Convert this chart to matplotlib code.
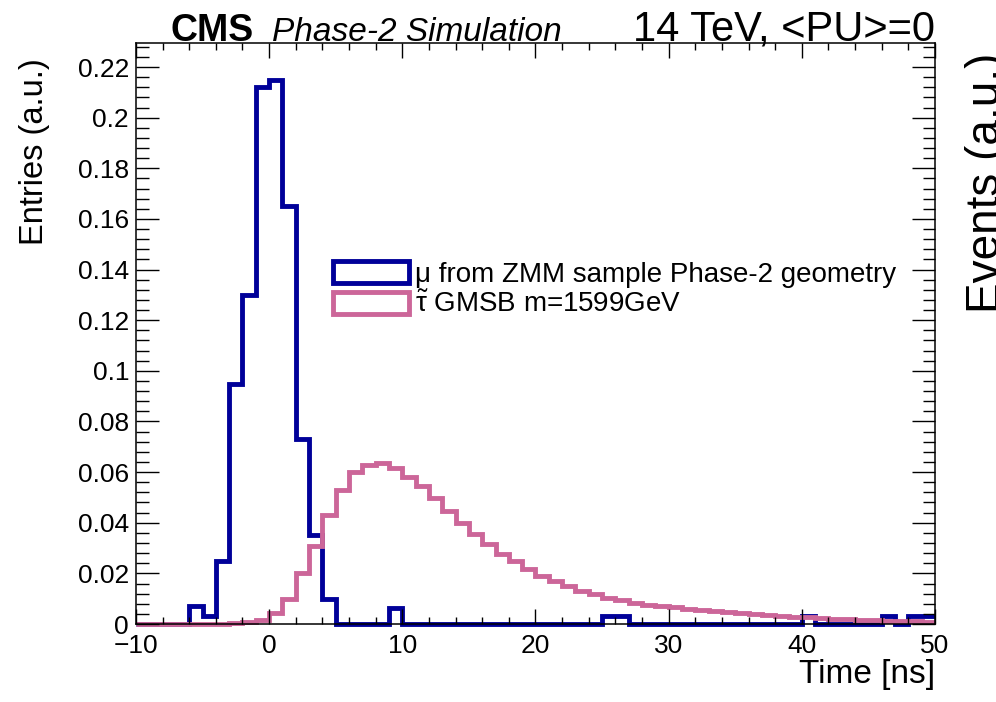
import numpy as np
import matplotlib
matplotlib.use("Agg")
import matplotlib.pyplot as plt
from matplotlib.patches import Patch
from matplotlib.ticker import MultipleLocator, FuncFormatter

plt.rcParams['font.family'] = ['Liberation Sans', 'DejaVu Sans']
plt.rcParams['mathtext.fontset'] = 'custom'
plt.rcParams['mathtext.rm'] = 'Liberation Sans'
plt.rcParams['mathtext.it'] = 'Liberation Sans:italic'

# 1 ns bins from -10 to 50
edges = np.arange(-10, 51, 1)

# muons from ZMM sample
mu_vals = [0, 0, 0, 0,
           0.007, 0.003, 0.025, 0.095, 0.130, 0.212, 0.215, 0.165, 0.073, 0.035, 0.010,
           0, 0, 0, 0,
           0.0065,
           0, 0, 0, 0, 0, 0, 0, 0, 0, 0, 0, 0, 0, 0, 0,
           0.003, 0.003,
           0, 0, 0, 0, 0, 0, 0, 0, 0, 0, 0, 0, 0,
           0.003,
           0, 0, 0, 0, 0,
           0.003,
           0,
           0.003, 0.003]

# stau GMSB m=1599 GeV
stau_vals = [0, 0, 0, 0, 0, 0,
             0.0002, 0.0004, 0.0008, 0.0015, 0.0045, 0.010, 0.020, 0.031, 0.043, 0.053,
             0.060, 0.063, 0.0635, 0.0615, 0.058, 0.0544, 0.0497, 0.0446, 0.040, 0.0355,
             0.0315, 0.0276, 0.0248, 0.0217, 0.019, 0.017, 0.015, 0.013, 0.0118, 0.0103,
             0.0095, 0.0083, 0.0077,
             0.0072, 0.0066, 0.0060, 0.0055, 0.0050, 0.0046, 0.0042, 0.0038, 0.0035, 0.0032,
             0.0029, 0.0026, 0.0023, 0.0021, 0.0019, 0.0017, 0.0015, 0.0013, 0.0012, 0.0010,
             0.0009]

blue = '#000099'
pink = '#cc6699'

fig = plt.figure(figsize=(9.96, 7.02), dpi=100)
ax = fig.add_axes([0.1365, 0.1111, 0.8023, 0.8276])

ax.stairs(mu_vals, edges, color=blue, lw=3.5, baseline=None, clip_on=False)
ax.stairs(stau_vals, edges, color=pink, lw=3.5, baseline=None, clip_on=False)

ax.set_xlim(-10, 50)
ax.set_ylim(0, 0.2295)

ax.xaxis.set_major_locator(MultipleLocator(10))
ax.xaxis.set_minor_locator(MultipleLocator(2))
ax.yaxis.set_major_locator(MultipleLocator(0.02))
ax.yaxis.set_minor_locator(MultipleLocator(0.004))
ax.yaxis.set_major_formatter(FuncFormatter(lambda v, p: '%g' % round(v, 3)))

ax.tick_params(which='both', direction='in', top=True, right=True, labelsize=19, width=1)
ax.tick_params(axis='y', which='major', length=16.5, pad=5)
ax.tick_params(axis='y', which='minor', length=9)
ax.tick_params(axis='x', which='major', length=11, pad=7)
ax.tick_params(axis='x', which='minor', length=5)
for s in ax.spines.values():
    s.set_linewidth(1.1)

fig.text(0.9388, 0.027, 'Time [ns]', ha='right', va='baseline', fontsize=24)
fig.text(0.035, 1 - 58 / 702, 'Entries (a.u.)', rotation=90, ha='center', va='top', fontsize=23.5)
fig.text(0.969, 1 - 53 / 702, 'Events (a.u.)', rotation=90, ha='left', va='top', fontsize=33)

fig.text(170 / 996, 1 - 41 / 702, 'CMS', fontsize=27, fontweight='bold', ha='left', va='baseline')
fig.text(272 / 996, 1 - 41 / 702, 'Phase-2 Simulation', fontsize=24, style='italic', ha='left', va='baseline')
fig.text(0.9388, 1 - 41 / 702, '14 TeV, <PU>=0', fontsize=30, ha='right', va='baseline')

handles = [Patch(facecolor='white', edgecolor=blue, lw=3.5),
           Patch(facecolor='white', edgecolor=pink, lw=3.5)]
labels = ['\u03bc from ZMM sample Phase-2 geometry', r'$\tilde{\mathrm{\tau}}$ GMSB m=1599GeV']
ax.legend(handles, labels, loc='upper left', bbox_to_anchor=(0.2466, 0.625), frameon=False,
          fontsize=20, handlelength=2.75, handleheight=0.85, handletextpad=0.2,
          labelspacing=0.15, borderpad=0, borderaxespad=0)

fig.savefig('out.png', dpi=100)
